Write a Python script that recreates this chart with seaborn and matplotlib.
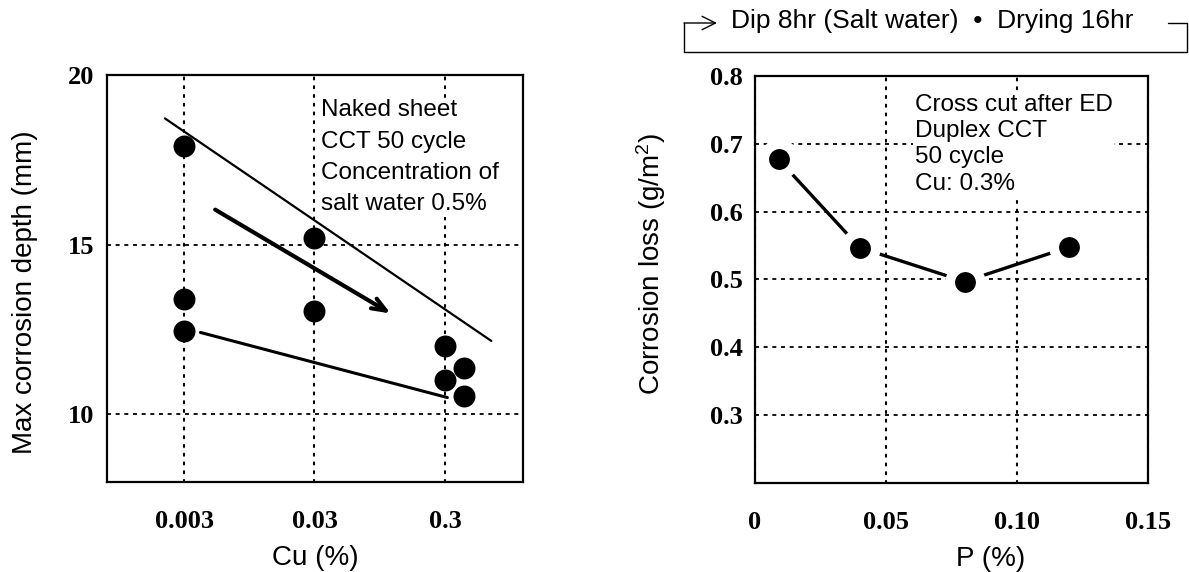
import matplotlib
matplotlib.use("Agg")
import matplotlib.pyplot as plt
from matplotlib.lines import Line2D
from matplotlib.patches import FancyArrowPatch
import seaborn as sns
import pandas as pd

# ---- data ----
cu_pct = [0.003, 0.003, 0.003, 0.03, 0.03, 0.3, 0.3, 0.42, 0.42]
max_depth = [17.9, 13.4, 12.45, 15.2, 13.05, 12.0, 11.0, 11.35, 10.55]
cu_ticks = [0.003, 0.03, 0.3]
cu_ticklabels = ["0.003", "0.03", "0.3"]
depth_ticks = [10, 15, 20]

upper_band_x = [0.00214, 0.68]
upper_band_y = [18.72, 12.16]
lower_band_x = [0.0040, 0.313]
lower_band_y = [12.41, 10.49]
trend_arrow_x = [0.0052, 0.115]
trend_arrow_y = [16.03, 12.97]

p_pct = [0.009, 0.04, 0.08, 0.12]
corrosion_loss = [0.677, 0.547, 0.497, 0.548]
p_ticks = [0, 0.05, 0.10, 0.15]
p_ticklabels = ["0", "0.05", "0.10", "0.15"]
loss_ticks = [0.3, 0.4, 0.5, 0.6, 0.7, 0.8]
loss_ticklabels = ["0.3", "0.4", "0.5", "0.6", "0.7", "0.8"]

note_left = "Naked sheet\nCCT 50 cycle\nConcentration of\nsalt water 0.5%"
note_right = "Cross cut after ED\nDuplex CCT\n50 cycle\nCu: 0.3%"
cycle_text = "Dip 8hr (Salt water)  \u2022  Drying 16hr"

# ---- style ----
sns.set_style("white")
plt.rcParams["font.family"] = ["Liberation Sans", "DejaVu Sans"]
plt.rcParams["mathtext.fontset"] = "custom"
plt.rcParams["mathtext.rm"] = "Liberation Sans"
plt.rcParams["mathtext.it"] = "Liberation Sans:italic"
for key in ("text.color", "axes.labelcolor", "xtick.color", "ytick.color"):
    plt.rcParams[key] = "black"

W, H = 1189, 572
fig = plt.figure(figsize=(W / 100, H / 100), dpi=100)

def px_axes(l, t, r, b):
    return fig.add_axes([l / W, 1 - b / H, (r - l) / W, (b - t) / H])

ax1 = px_axes(107, 75, 523, 482)
ax2 = px_axes(755, 76, 1148, 483)

tick_font = dict(family="Liberation Serif", weight="bold", size=19)
label_size = 20
note_size = 17.5

for ax in (ax1, ax2):
    for sp in ax.spines.values():
        sp.set_visible(True)
        sp.set_color("black")
        sp.set_linewidth(1.6)
    ax.tick_params(length=0)

def draw_grid(ax):
    ax.grid(False)
    for x in ax.get_xticks():
        ax.axvline(x, color="black", lw=1.5, ls=(0, (1, 3.2)),
                   dash_capstyle="round", zorder=0.5)
    for y in ax.get_yticks():
        ax.axhline(y, color="black", lw=1.3, ls=(0, (2.2, 2.6)), zorder=0.5)

# ---- left panel: max corrosion depth vs Cu ----
df1 = pd.DataFrame({"Cu": cu_pct, "depth": max_depth})
ax1.set_xscale("log")
ax1.set_xlim(0.00077, 1.19)
ax1.set_ylim(8, 20)
ax1.set_xticks(cu_ticks)
ax1.set_xticklabels(cu_ticklabels, fontdict=tick_font)
ax1.xaxis.set_minor_locator(matplotlib.ticker.NullLocator())
ax1.set_yticks(depth_ticks)
ax1.set_yticklabels([str(v) for v in depth_ticks], fontdict=tick_font)
ax1.tick_params(axis="x", pad=20)
ax1.tick_params(axis="y", pad=9)
draw_grid(ax1)

sns.scatterplot(data=df1, x="Cu", y="depth", ax=ax1, s=250, color="black",
                edgecolor="black", linewidth=0, zorder=5, legend=False)
ax1.plot(upper_band_x, upper_band_y, color="black", lw=1.6, zorder=4)
ax1.plot(lower_band_x, lower_band_y, color="black", lw=2.2, zorder=4)
ax1.annotate("", xy=(trend_arrow_x[1], trend_arrow_y[1]),
             xytext=(trend_arrow_x[0], trend_arrow_y[0]),
             arrowprops=dict(arrowstyle="->,head_length=1.0,head_width=0.4",
                             lw=3, color="black", shrinkA=0, shrinkB=0),
             zorder=4)
ax1.text(0.514, 0.94, note_left, transform=ax1.transAxes, ha="left", va="top",
         fontsize=note_size, linespacing=1.55, zorder=3,
         bbox=dict(facecolor="white", edgecolor="none", pad=1))
ax1.set_xlabel("Cu (%)", fontsize=label_size)
ax1.set_ylabel("Max corrosion depth (mm)", fontsize=label_size)
ax1.xaxis.set_label_coords(0.5, -0.155)
ax1.yaxis.set_label_coords(-0.165, 0.467)

# ---- right panel: corrosion loss vs P ----
df2 = pd.DataFrame({"P": p_pct, "loss": corrosion_loss})
ax2.set_xlim(0, 0.15)
ax2.set_ylim(0.2, 0.8)
ax2.set_xticks(p_ticks)
ax2.set_xticklabels(p_ticklabels, fontdict=tick_font)
ax2.set_yticks(loss_ticks)
ax2.set_yticklabels(loss_ticklabels, fontdict=tick_font)
ax2.tick_params(axis="x", pad=20)
ax2.tick_params(axis="y", pad=9)
draw_grid(ax2)

sns.lineplot(data=df2, x="P", y="loss", ax=ax2, sort=False, color="black",
             lw=2.4, marker="o", markersize=22, markerfacecolor="black",
             markeredgecolor="white", markeredgewidth=7, zorder=5)
ax2.text(0.406, 0.956, note_right, transform=ax2.transAxes, ha="left", va="top",
         fontsize=note_size, linespacing=1.25, zorder=3,
         bbox=dict(facecolor="white", edgecolor="none", pad=1))
ax2.set_xlabel("P (%)", fontsize=label_size)
ax2.set_ylabel("Corrosion loss (g/m$^2$)", fontsize=label_size)
ax2.xaxis.set_label_coords(0.6, -0.155)
ax2.yaxis.set_label_coords(-0.222, 0.539)

# ---- cycle bracket above right panel ----
def fxy(x, y):
    return (x / W, 1 - y / H)

bx = [1168, 1187, 1187, 684, 684]
by = [23, 23, 52, 52, 23]
fig.add_artist(Line2D([x / W for x in bx], [1 - y / H for y in by],
                      transform=fig.transFigure, color="black", lw=1.0))
fig.add_artist(FancyArrowPatch(fxy(684, 23), fxy(717, 23),
                               transform=fig.transFigure,
                               arrowstyle="->,head_length=0.8,head_width=0.4",
                               mutation_scale=12, lw=1.0, color="black",
                               shrinkA=0, shrinkB=0))
fig.text(731 / W, 1 - 21 / H, cycle_text, ha="left", va="center",
         fontsize=19)

fig.savefig("out.png", dpi=100)
